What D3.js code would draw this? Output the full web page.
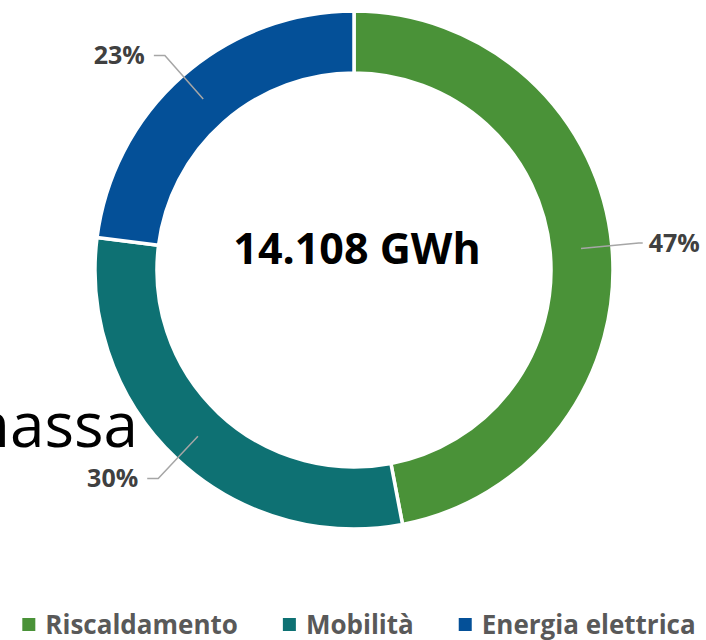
<!doctype html>
<html>
<head>
<meta charset="UTF-8">
<title>Consumi</title>
<script src="https://cdn.jsdelivr.net/npm/d3@7"></script>
<style>
  body { margin: 0; background: #fff; }
  svg { display: block; font-family: "Open Sans", "Noto Sans", sans-serif; }
</style>
</head>
<body>
<svg id="chart" width="706" height="640"></svg>
<script>
// data
var categories = ["Riscaldamento", "Mobilità", "Energia elettrica"];
var shares = [47, 30, 23];
var colors = ["#4a9238", "#0e7173", "#045098"];
var totalLabel = "14.108 GWh";
var backgroundWord = "massa";

var w = 706, h = 640;
var cx = 354, cy = 270;
var rIn = 197, rOut = 259;

var svg = d3.select("#chart");

// leftover word from the slide behind the ring
svg.append("text")
  .attr("x", 138)
  .attr("y", 447)
  .attr("text-anchor", "end")
  .attr("font-size", 62)
  .attr("fill", "#000")
  .text(backgroundWord);

var pie = d3.pie().sort(null).value(function(d){ return d; });
var arcs = pie(shares);
var arc = d3.arc().innerRadius(rIn).outerRadius(rOut);

var g = svg.append("g").attr("transform", "translate(" + cx + "," + cy + ")");

g.selectAll("path.slice")
  .data(arcs)
  .enter().append("path")
  .attr("class", "slice")
  .attr("d", arc)
  .attr("fill", function(d, i){ return colors[i]; })
  .attr("stroke", "#fff")
  .attr("stroke-width", 3.5);

// leader lines + percent labels
function polar(a, r){ return [r * Math.sin(a), -r * Math.cos(a)]; }

arcs.forEach(function(d){
  var a = (d.startAngle + d.endAngle) / 2;
  var side = Math.sin(a) > 0 ? 1 : -1;
  var seg = side > 0 ? 4 : 11, gap = side > 0 ? 6 : 9;
  var p0 = polar(a, (rIn + rOut) / 2);
  var p1 = polar(a, 286);
  var p2 = [p1[0] + side * seg, p1[1]];
  g.append("polyline")
    .attr("points", [p0, p1, p2].map(function(p){ return p.join(","); }).join(" "))
    .attr("fill", "none")
    .attr("stroke", "#a6a6a6")
    .attr("stroke-width", 1.5);
  g.append("text")
    .attr("x", p2[0] + side * gap)
    .attr("y", p2[1])
    .attr("dy", "0.36em")
    .attr("text-anchor", side > 0 ? "start" : "end")
    .attr("font-size", 25)
    .attr("font-weight", "bold")
    .attr("fill", "#404040")
    .text(d.data + "%");
});

// total in the middle
svg.append("text")
  .attr("x", 357)
  .attr("y", 264)
  .attr("text-anchor", "middle")
  .attr("font-size", 43)
  .attr("font-weight", "bold")
  .attr("fill", "#000")
  .text(totalLabel);

// legend
var legend = svg.append("g");
var x = 0;
categories.forEach(function(c, i){
  var item = legend.append("g").attr("transform", "translate(" + x + ",0)");
  item.append("rect")
    .attr("x", 0).attr("y", -16)
    .attr("width", 13).attr("height", 13)
    .attr("fill", colors[i]);
  var t = item.append("text")
    .attr("x", 23).attr("y", 0)
    .attr("font-size", 26)
    .attr("font-weight", "bold")
    .attr("fill", "#595959")
    .text(c);
  x += 23 + t.node().getComputedTextLength() + 45;
});
var legendW = x - 45;
legend.attr("transform", "translate(" + (359 - legendW / 2) + ",634)");
</script>
</body>
</html>
